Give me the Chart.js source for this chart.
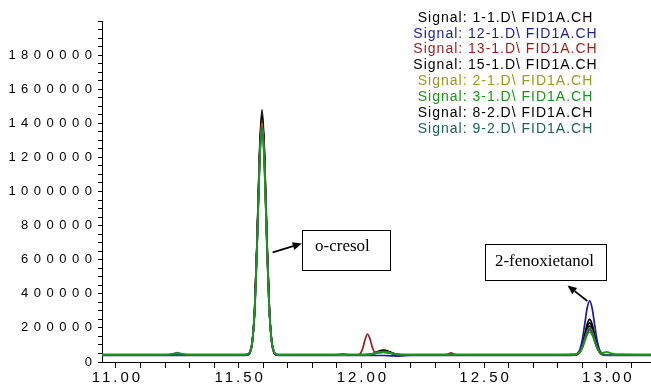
<!DOCTYPE html>
<html><head><meta charset="utf-8">
<script src="https://cdn.jsdelivr.net/npm/chart.js@4.4.1/dist/chart.umd.min.js"></script>
<style>html,body{margin:0;padding:0;background:#fff;}canvas{display:block;}</style>
</head><body>
<canvas id="c" width="651" height="384"></canvas>
<script>
// Retention time grid (min)
const times = [10.94, 11.20, 11.235, 11.25, 11.265, 11.30,
  11.50, 11.535, 11.545, 11.555, 11.565, 11.575, 11.585, 11.595, 11.605, 11.615, 11.625, 11.635, 11.645, 11.655, 11.70,
  11.90, 11.925,
  11.95, 11.985, 11.995, 12.005, 12.015, 12.025, 12.035, 12.045, 12.055, 12.07, 12.09, 12.11, 12.13, 12.15, 12.17, 12.20,
  12.34, 12.355, 12.365, 12.375, 12.39,
  12.80, 12.87, 12.88, 12.89, 12.90, 12.91, 12.92, 12.93, 12.94, 12.95, 12.96, 12.97, 12.98, 12.99, 13.00, 13.015, 13.035, 13.18];

const sig_1_1 = [40000, 40000, 40000, 40000, 40000, 40000,
  40000, 41900, 54500, 116300, 315000, 731200, 1238100, 1480000, 1238100, 731200, 315000, 116300, 54500, 41900, 40000,
  40000, 40000,
  40000, 40000, 40100, 40300, 40800, 42000, 44400, 48300, 53700, 63300, 70000, 63300, 50800, 43000, 40500, 40000,
  40000, 40000, 40000, 40000, 40000,
  40000, 41400, 46600, 62900, 100300, 160800, 222900, 250000, 222900, 160800, 100300, 62900, 46600, 41400, 40200, 40000, 40000, 40000];

const sig_12_1 = [38000, 38000, 38000, 38000, 38000, 38000,
  38000, 39800, 51700, 109700, 296200, 687000, 1162900, 1390000, 1162900, 687000, 296200, 109700, 51700, 39800, 38000,
  38000, 38000,
  38000, 38000, 38000, 38000, 38000, 38000, 38000, 38000, 38000, 38000, 38000, 37000, 35500, 35000, 36500, 38000,
  38000, 38000, 38000, 38000, 38000,
  38000, 40200, 48000, 72900, 129800, 222000, 316700, 358000, 316700, 222000, 129800, 72900, 48000, 40200, 38400, 38000, 38000, 38000];

const sig_13_1 = [40000, 40000, 46000, 52000, 46000, 40000,
  40000, 41800, 53900, 113100, 303600, 702400, 1188200, 1420000, 1188200, 702400, 303600, 113100, 53900, 41800, 40000,
  40000, 40000,
  40000, 41100, 48600, 77700, 131800, 164100, 134400, 83600, 58700, 57400, 62000, 57100, 47900, 42200, 40400, 40000,
  40000, 47700, 54000, 47700, 40000,
  40000, 41000, 44700, 56400, 83100, 126300, 170700, 190000, 170700, 126300, 83100, 56400, 44700, 41000, 40200, 40000, 40000, 40000];

const sig_15_1 = [40000, 40000, 40000, 40000, 40000, 40000,
  40000, 41800, 54200, 114700, 309300, 716800, 1213100, 1450000, 1213100, 716800, 309300, 114700, 54200, 41800, 40000,
  40000, 40000,
  40000, 40000, 40100, 40300, 40700, 41700, 43800, 47200, 51900, 60200, 66000, 60200, 49400, 42600, 40400, 40000,
  40000, 40000, 40000, 40000, 40000,
  40000, 41300, 46000, 60700, 94500, 149300, 205500, 230000, 205500, 149300, 94500, 60700, 46000, 41300, 40200, 40000, 40000, 40000];

const sig_2_1 = [42000, 42000, 46000, 50000, 46000, 42000,
  42000, 43800, 55700, 114000, 301400, 693800, 1171900, 1400000, 1171900, 693800, 301400, 114000, 55700, 43800, 42000,
  42000, 42000,
  42000, 42000, 42100, 42200, 42500, 43200, 44600, 47000, 50200, 56000, 60000, 56000, 48500, 43800, 42300, 42000,
  42000, 42000, 42000, 42000, 42000,
  42000, 43100, 47000, 59200, 87300, 132900, 179600, 200000, 179600, 132900, 87300, 59200, 47000, 43100, 42200, 42000, 42000, 42000];

const sig_3_1 = [45000, 45000, 50000, 55000, 50000, 45000,
  45000, 46700, 58300, 114700, 296200, 676200, 1139100, 1360000, 1139100, 676200, 296200, 114700, 58300, 46700, 45000,
  45000, 45000,
  45000, 45000, 45000, 45100, 45300, 45800, 46700, 48300, 50500, 54300, 57000, 54300, 49300, 46200, 45200, 45000,
  45000, 45000, 45000, 45000, 45000,
  45000, 45900, 49100, 59300, 82600, 120300, 159100, 176000, 159100, 120300, 82600, 59300, 53100, 56000, 59000, 52000, 46000, 45000];

const sig_8_2 = [40000, 40000, 40000, 40000, 40000, 40000,
  40000, 41800, 54000, 113700, 305500, 707200, 1196500, 1430000, 1196500, 707200, 305500, 113700, 54000, 41800, 40000,
  40000, 40000,
  40000, 40000, 40100, 40200, 40600, 41500, 43200, 46100, 50100, 57100, 62000, 57100, 47900, 42200, 40400, 40000,
  40000, 40000, 40000, 40000, 40000,
  40000, 41200, 45300, 58500, 88800, 137800, 188100, 210000, 188100, 137800, 88800, 58500, 45300, 41200, 40200, 40000, 40000, 40000];

const sig_9_2 = [42000, 42000, 42000, 42000, 42000, 42000,
  42000, 43700, 55500, 112900, 297600, 684200, 1155200, 1380000, 1155200, 684200, 297600, 112900, 55500, 43700, 42000,
  42000, 48000,
  42000, 42000, 42000, 42200, 42400, 43100, 44300, 46400, 49300, 54400, 58000, 54400, 47800, 43600, 42300, 42000,
  42000, 42000, 42000, 42000, 42000,
  42000, 43000, 46800, 58700, 85900, 130000, 175300, 195000, 175300, 130000, 85900, 58700, 46800, 43000, 42200, 42000, 42000, 42000];

const seriesLabels = ['Signal: 1-1.D\\ FID1A.CH', 'Signal: 12-1.D\\ FID1A.CH', 'Signal: 13-1.D\\ FID1A.CH', 'Signal: 15-1.D\\ FID1A.CH',
  'Signal: 2-1.D\\ FID1A.CH', 'Signal: 3-1.D\\ FID1A.CH', 'Signal: 8-2.D\\ FID1A.CH', 'Signal: 9-2.D\\ FID1A.CH'];
const seriesValues = [sig_1_1, sig_12_1, sig_13_1, sig_15_1, sig_2_1, sig_3_1, sig_8_2, sig_9_2];
const seriesColors = ['#000000', '#1c1c9c', '#9c1c1c', '#000000', '#9a9a1c', '#1a961a', '#000000', '#1e6060'];
const seriesOrder = [5, 3, 4, 6, 2, 0, 7, 1];

const xLabelTicks = [11.0, 11.5, 12.0, 12.5, 13.0];
const yLabelTicks = [0, 200000, 400000, 600000, 800000, 1000000, 1200000, 1400000, 1600000, 1800000];

const notes = [
  {text: 'o-cresol', box: [11.759, 12.117, 776500, 537800], tx: 11.811, ty: 674500, align: 'left', from: [11.6386, 643400], to: [11.757, 694400]},
  {text: '2-fenoxietanol', box: [12.504, 12.997, 694400, 483300], tx: 12.746, ty: 590600, align: 'center', from: [12.9205, 357800], to: [12.840, 448100]}
];

const SANS = "'Liberation Sans', Arial, sans-serif";
const SERIF = "'Liberation Serif', 'Times New Roman', serif";

const spacingPlugin = {
  id: 'spacing',
  beforeDraw(chart) {
    const cfg = {x: ['3px', 1.5], y: ['5.5px', 5.5]};
    for (const id of ['x', 'y']) {
      const s = chart.scales[id];
      if (!s || s._patched) continue;
      const orig = s.drawLabels.bind(s);
      const [sp, dx] = cfg[id];
      s.drawLabels = function (area) {
        const ctx = this.ctx;
        ctx.save();
        ctx.letterSpacing = sp;
        ctx.translate(dx, 0);
        orig(area);
        ctx.restore();
      };
      s._patched = true;
    }
  }
};

const notesPlugin = {
  id: 'notes',
  afterDraw(chart) {
    const ctx = chart.ctx, xs = chart.scales.x, ys = chart.scales.y;
    ctx.save();
    for (const n of notes) {
      const x0 = Math.round(xs.getPixelForValue(n.box[0])) + 0.5;
      const x1 = Math.round(xs.getPixelForValue(n.box[1])) + 0.5;
      const y0 = Math.round(ys.getPixelForValue(n.box[2])) + 0.5;
      const y1 = Math.round(ys.getPixelForValue(n.box[3])) + 0.5;
      ctx.fillStyle = '#fff';
      ctx.fillRect(x0, y0, x1 - x0, y1 - y0);
      ctx.strokeStyle = '#000';
      ctx.lineWidth = 1;
      ctx.strokeRect(x0, y0, x1 - x0, y1 - y0);
      ctx.fillStyle = '#000';
      ctx.font = '17px ' + SERIF;
      ctx.textAlign = n.align;
      ctx.textBaseline = 'middle';
      ctx.fillText(n.text, xs.getPixelForValue(n.tx), ys.getPixelForValue(n.ty));
      const fx = xs.getPixelForValue(n.from[0]), fy = ys.getPixelForValue(n.from[1]);
      const tx = xs.getPixelForValue(n.to[0]), ty = ys.getPixelForValue(n.to[1]);
      const a = Math.atan2(ty - fy, tx - fx);
      const L = 9, W = 4;
      const bx = tx - L * Math.cos(a), by = ty - L * Math.sin(a);
      ctx.lineWidth = 1.8;
      ctx.beginPath(); ctx.moveTo(fx, fy); ctx.lineTo(bx, by); ctx.stroke();
      ctx.beginPath();
      ctx.moveTo(tx, ty);
      ctx.lineTo(bx + W * Math.sin(a), by - W * Math.cos(a));
      ctx.lineTo(bx - W * Math.sin(a), by + W * Math.cos(a));
      ctx.closePath(); ctx.fill();
    }
    // legend text
    ctx.font = '14px ' + SANS;
    ctx.letterSpacing = '1px';
    ctx.textAlign = 'center';
    ctx.textBaseline = 'middle';
    chart.data.datasets.forEach((d, i) => {
      ctx.fillStyle = d.borderColor;
      ctx.fillText(d.label, 505.5, 17.8 + i * 15.9);
    });
    ctx.restore();
  }
};

const datasets = seriesValues.map((vals, i) => ({
  label: seriesLabels[i],
  data: times.map((t, k) => ({x: t, y: vals[k]})),
  borderColor: seriesColors[i],
  backgroundColor: seriesColors[i],
  borderWidth: 1.7,
  pointRadius: 0,
  fill: false,
  cubicInterpolationMode: 'monotone',
  order: seriesOrder[i]
}));

const near = (v, list) => list.some(t => Math.abs(t - v) < 1e-6);

new Chart(document.getElementById('c'), {
  type: 'line',
  data: {datasets},
  plugins: [spacingPlugin, notesPlugin],
  options: {
    responsive: false,
    animation: false,
    layout: {padding: {top: 21, right: 0, left: 0, bottom: 0}},
    plugins: {legend: {display: false}, tooltip: {enabled: false}},
    scales: {
      x: {
        type: 'linear',
        min: 10.943, max: 13.18,
        afterFit: s => { s.height = 22; },
        border: {color: '#000', width: 1},
        grid: {drawOnChartArea: false, drawTicks: true, tickLength: 6, color: '#000', tickColor: '#000'},
        ticks: {
          stepSize: 0.1, includeBounds: false, autoSkip: false, maxRotation: 0,
          padding: 1, color: '#000',
          font: {family: SANS, size: 15},
          callback: v => near(v, xLabelTicks) ? Number(v).toFixed(2) : ''
        }
      },
      y: {
        type: 'linear',
        min: 0, max: 2000000,
        afterFit: s => { s.width = 102; },
        border: {color: '#000', width: 1},
        grid: {drawOnChartArea: false, drawTicks: true, tickLength: 4, color: '#000', tickColor: '#000'},
        ticks: {
          stepSize: 50000, includeBounds: false, autoSkip: false,
          padding: 6, color: '#000',
          font: {family: SANS, size: 13},
          callback: v => near(v, yLabelTicks) ? String(Math.round(v)) : ''
        }
      }
    }
  }
});
</script>
</body></html>
